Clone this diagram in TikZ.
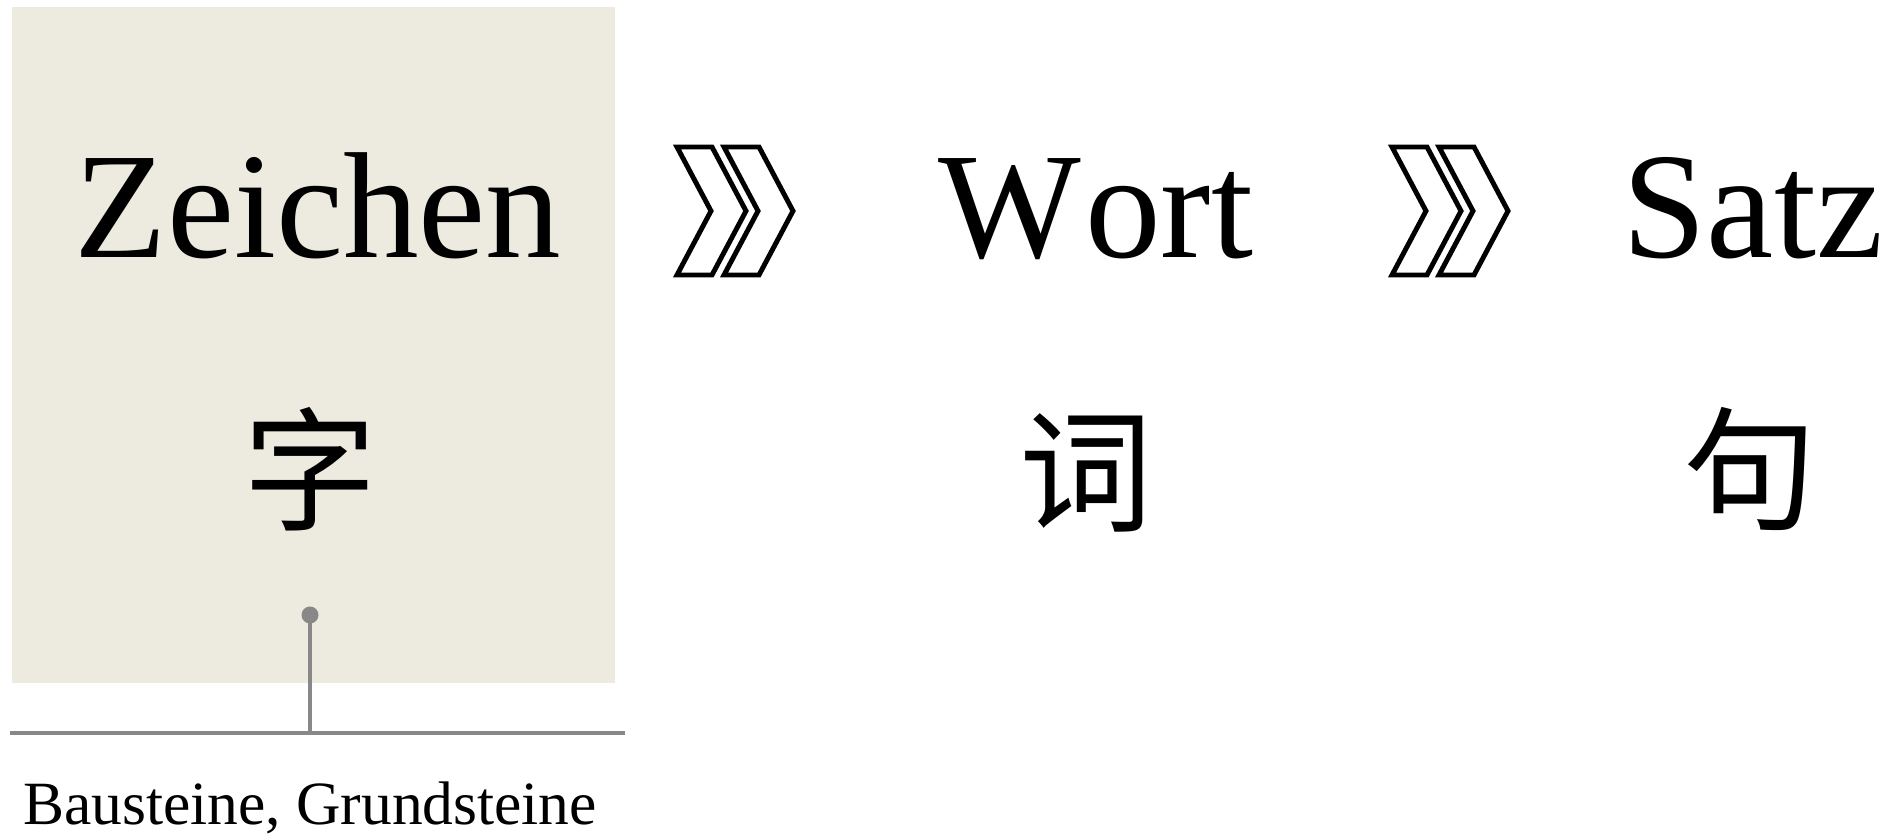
\documentclass[tikz,border=0pt]{standalone}
\usepackage{fontspec}
\setmainfont{Liberation Serif}
\newfontfamily\cjk{Noto Sans CJK SC}
\usepackage{xcolor}
\usepackage{tikz}
\usetikzlibrary{positioning}

\definecolor{boxfill}{RGB}{237,234,224}
\definecolor{pingray}{RGB}{136,136,136}

\begin{document}
\begin{tikzpicture}[
    word/.style={anchor=base, inner sep=0pt, font=\fontsize{43}{50}\selectfont},
    hanzi/.style={inner sep=0pt, font=\cjk\fontsize{38}{42}\selectfont},
    chevron/.style={draw=black, line width=1.4pt, line join=miter, fill=white},
    pin/.style={draw=none, fill=pingray, circle, inner sep=0pt, minimum size=0.17cm},
    rule/.style={draw=pingray, line width=0.9pt},
    note/.style={anchor=base, inner sep=0pt, font=\fontsize{17.5}{20}\selectfont}
]
\useasboundingbox (0,0) rectangle (18.85,8.35);
\node[fill=boxfill, minimum width=6.03cm, minimum height=6.76cm, inner sep=0pt] (zeichenbox) at (3.135,4.90) {};
\node[word] (zeichen) at (3.18,5.77) {Zeichen};
\node[word] (wort) at (10.96,5.77) {W\kern1pt ort};
\node[word] (satz) at (17.53,5.77) {Satz};
\node[hanzi] (zi) at (3.10,3.66) {字};
\node[hanzi] (ci) at (10.86,3.62) {词};
\node[hanzi] (ju) at (17.50,3.66) {句};
% double chevrons between the words
\foreach \x in {6.77,13.92} {
    \foreach \s in {0,0.47} {
        \draw[chevron] (\x+\s,6.88) -- ++(0.35,0) -- ++(0.34,-0.64) -- ++(-0.34,-0.64)
            -- ++(-0.35,0) -- ++(0.34,0.64) -- cycle;
    }
}
\node[pin] (zipin) at (3.10,2.20) {};
\coordinate (rulewest) at (0.10,1.02);
\coordinate (ruleeast) at (6.25,1.02);
\coordinate (rulemid) at (3.10,1.02);
\draw[rule] (rulewest) -- (ruleeast);
\draw[rule] (zipin.center) -- (rulemid);
\node[note] (bausteine) at (3.10,0.10) {Bausteine, Grundsteine};
\end{tikzpicture}
\end{document}
